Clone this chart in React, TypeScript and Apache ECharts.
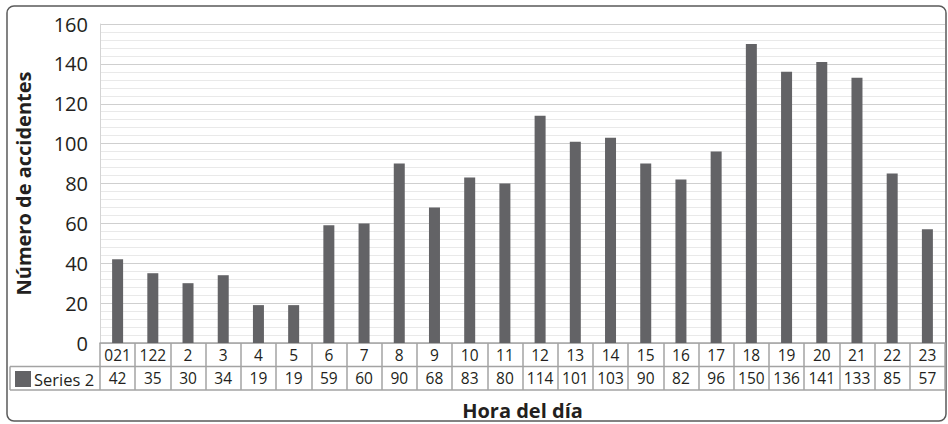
import React, { useEffect, useRef } from "react";
import * as echarts from "echarts";

// Hour labels as printed in the data table
const hours = ["021", "122", "2", "3", "4", "5", "6", "7", "8", "9", "10", "11", "12", "13", "14", "15", "16", "17", "18", "19", "20", "21", "22", "23"];
// Accidents per hour
const accidents = [42, 35, 30, 34, 19, 19, 59, 60, 90, 68, 83, 80, 114, 101, 103, 90, 82, 96, 150, 136, 141, 133, 85, 57];
const seriesName = "Series 2";
const yTicks = { min: 0, max: 160, interval: 20 };

const FONT = "'Open Sans', 'Noto Sans', sans-serif";
const TEXT = "#231f20";
const CELL = "#a3a3a3";
const BAR = "#636366";

const W = 948;
const H = 424;
const G = { left: 100, right: 3, top: 24, bottom: 81 };
const ROW = 23.5;

export default function App() {
  const ref = useRef<HTMLDivElement>(null);

  useEffect(() => {
    if (!ref.current) return;
    const chart = echarts.init(ref.current, undefined, { renderer: "svg" });
    const axisY = H - G.bottom;
    const right = W - G.right;
    const legendLeft = 10;

    chart.setOption({
      animation: false,
      textStyle: { fontFamily: FONT },
      grid: {
        left: G.left,
        right: G.right,
        top: G.top,
        bottom: G.bottom,
        containLabel: false,
        outerBoundsMode: "none",
      },
      legend: {
        data: [seriesName],
        left: legendLeft + 5,
        top: axisY + ROW + 4,
        padding: 0,
        icon: "rect",
        itemWidth: 16,
        itemHeight: 16,
        itemGap: 3,
        textStyle: { fontFamily: FONT, fontSize: 16.5, color: TEXT, padding: [0, 0, 0, -2] },
        selectedMode: false,
      },
      xAxis: {
        type: "category",
        data: hours,
        name: "Hora del día",
        nameLocation: "middle",
        nameGap: 57,
        nameTextStyle: { fontFamily: FONT, fontSize: 20, fontWeight: "bold", color: TEXT },
        axisLine: { show: true, lineStyle: { color: CELL, width: 1.5 } },
        axisTick: { show: true, interval: 0, length: ROW * 2, lineStyle: { color: CELL, width: 1.5 } },
        axisLabel: {
          interval: 0,
          margin: 0,
          hideOverlap: false,
          formatter: (v: string, i: number) => `{c|${v}}\n{v|${accidents[i]}}`,
          rich: {
            c: { fontFamily: FONT, fontSize: 15.5, color: TEXT, lineHeight: ROW, height: ROW, verticalAlign: "middle" },
            v: { fontFamily: FONT, fontSize: 15.5, color: TEXT, lineHeight: ROW, height: ROW, verticalAlign: "middle" },
          },
        },
      },
      yAxis: {
        type: "value",
        min: yTicks.min,
        max: yTicks.max,
        interval: yTicks.interval,
        name: "Número de accidentes",
        nameLocation: "middle",
        nameGap: 67,
        nameTextStyle: { fontFamily: FONT, fontSize: 20, fontWeight: "bold", color: TEXT },
        axisLine: { show: true, lineStyle: { color: "#d4d4d4", width: 1 } },
        axisTick: { show: false },
        axisLabel: { fontFamily: FONT, fontSize: 20, color: TEXT, margin: 12 },
        splitLine: { show: true, lineStyle: { color: "#cfcfcf", width: 1.2 } },
        minorTick: { show: false, splitNumber: 5 },
        minorSplitLine: { show: true, lineStyle: { color: "#e9e9e9", width: 1 } },
      },
      series: [
        {
          name: seriesName,
          type: "bar",
          data: accidents,
          barWidth: 11,
          itemStyle: { color: BAR },
        },
      ],
      graphic: [
        // chart frame
        {
          type: "rect",
          shape: { x: 7, y: 6, width: W - 9, height: H - 9, r: 7 },
          style: { fill: "none", stroke: "#5a5a5a", lineWidth: 1.5 },
          silent: true,
        },
        // data table rows
        {
          type: "line",
          shape: { x1: legendLeft, y1: axisY + ROW, x2: right, y2: axisY + ROW },
          style: { stroke: CELL, lineWidth: 1.5 },
          silent: true,
        },
        {
          type: "line",
          shape: { x1: legendLeft, y1: axisY + ROW * 2, x2: right, y2: axisY + ROW * 2 },
          style: { stroke: CELL, lineWidth: 1.5 },
          silent: true,
        },
        {
          type: "line",
          shape: { x1: legendLeft, y1: axisY + ROW, x2: legendLeft, y2: axisY + ROW * 2 },
          style: { stroke: CELL, lineWidth: 1.5 },
          silent: true,
        },
      ],
    });

    return () => chart.dispose();
  }, []);

  return (
    <div
      ref={ref}
      style={{ position: "fixed", left: 0, top: 0, width: W, height: H, background: "#fff" }}
    />
  );
}
